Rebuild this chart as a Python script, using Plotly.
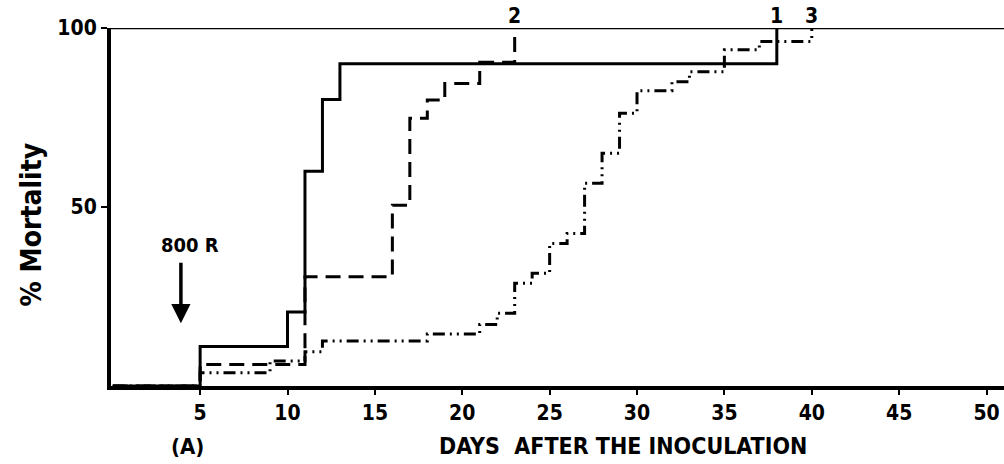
import plotly.graph_objects as go

# ---- data (step curves: day at which mortality changes, % mortality from that day) ----
days_1 = [0, 5, 10, 11, 12, 13, 38]
mort_1 = [0, 11, 20.7, 60, 80, 90, 100]

days_2 = [0, 5, 11, 16, 17, 18, 19, 21, 23]
mort_2 = [0, 6, 30.5, 50.5, 74.8, 79.9, 84.5, 90.4, 100]

days_3 = [0, 5, 9, 11, 12, 18, 21, 22, 23, 24, 25, 26, 27, 28, 29, 30, 32, 33, 35, 37, 40]
mort_3 = [0, 3.7, 7, 9.6, 12.6, 14.5, 17.2, 20.3, 28.7, 31.5, 39.8, 42.6, 56.6, 65, 76.2,
          82.5, 85, 87.8, 93.9, 96.2, 100]

x_ticks = [5, 10, 15, 20, 25, 30, 35, 40, 45, 50]
y_ticks = [50, 100]
curve_labels = ["1", "2", "3"]

FONT = "DejaVu Sans Condensed, Liberation Sans Narrow, Liberation Sans, sans-serif"

fig = go.Figure()
fig.add_trace(go.Scatter(x=days_1, y=mort_1, mode="lines", line_shape="hv",
                         line=dict(color="black", width=3), showlegend=False))
fig.add_trace(go.Scatter(x=days_2, y=mort_2, mode="lines", line_shape="hv",
                         line=dict(color="black", width=3, dash="15px,8px"), showlegend=False))
fig.add_trace(go.Scatter(x=days_3, y=mort_3, mode="lines", line_shape="hv",
                         line=dict(color="black", width=3, dash="12px,5px,2px,5px,2px,5px"),
                         showlegend=False))

# top frame line at 100 %
fig.add_shape(type="line", xref="paper", yref="y", x0=0, x1=1, y0=100, y1=100,
              line=dict(color="black", width=2.5))

# curve end labels
ends = [(days_1[-1], curve_labels[0]), (days_2[-1], curve_labels[1]), (days_3[-1], curve_labels[2])]
for xd, lab in ends:
    fig.add_annotation(x=xd, y=100, yshift=12, text=lab, showarrow=False,
                       font=dict(size=21, family=FONT, color="black", weight="bold"))

# 800 R arrow
fig.add_annotation(x=4.4, y=39.4, text="800 R", showarrow=False,
                   font=dict(size=20, family=FONT, color="black", weight="bold"))
fig.add_annotation(x=3.9, y=17.5, ax=0, ay=-62, text="", showarrow=True,
                   arrowhead=2, arrowsize=1.1, arrowwidth=3.5, arrowcolor="black")

# axis titles as annotations
fig.add_annotation(xref="paper", x=0, xshift=-98, y=45, text="% Mortality", textangle=-90,
                   showarrow=False,
                   font=dict(size=28, family=FONT, color="black", weight="bold"))
fig.add_annotation(x=29.2, yref="paper", y=0, yshift=-75, text="DAYS  AFTER THE INOCULATION",
                   showarrow=False,
                   font=dict(size=23, family=FONT, color="black", weight="bold"))
fig.add_annotation(x=4.3, yref="paper", y=0, yshift=-75, text="(A)", showarrow=False,
                   font=dict(size=22, family=FONT, color="black", weight="bold"))

fig.update_layout(
    width=1004, height=464,
    margin=dict(l=111, r=0, t=28, b=78),
    paper_bgcolor="white", plot_bgcolor="white",
    font=dict(family=FONT, color="black", size=21, weight="bold"),
    xaxis=dict(range=[-0.1, 51.0], tickvals=x_ticks, ticktext=[str(v) for v in x_ticks],
               showgrid=False, zeroline=False, showline=True, linecolor="black", linewidth=4,
               ticks="outside", ticklen=5, tickwidth=2, tickcolor="black",
               tickfont=dict(size=21, family=FONT, color="black", weight="bold")),
    yaxis=dict(range=[0, 100], tickvals=y_ticks, ticktext=[str(v) for v in y_ticks],
               showgrid=False, zeroline=False, showline=True, linecolor="black", linewidth=4,
               ticks="outside", ticklen=6, tickwidth=2, tickcolor="black",
               tickfont=dict(size=21, family=FONT, color="black", weight="bold")),
)

fig.write_html("out.html", config={"displayModeBar": False},
               post_script="document.body.style.margin='0px';document.body.style.overflow='hidden';")
